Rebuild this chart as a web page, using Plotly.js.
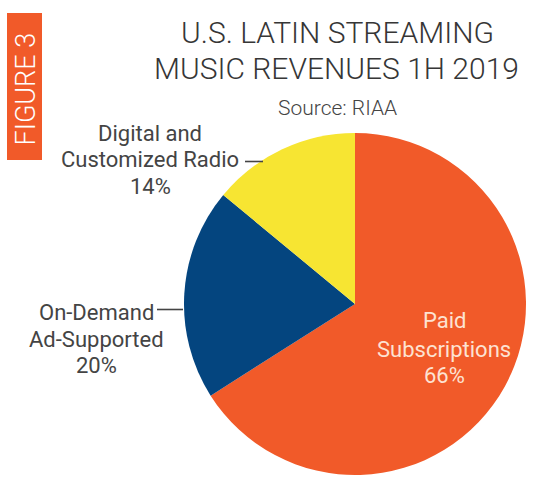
<!DOCTYPE html>
<html>
<head>
<meta charset="utf-8">
<script src="https://cdn.plot.ly/plotly-3.0.1.min.js"></script>
<style>html,body{margin:0;padding:0;background:#fff;}#chart{width:549px;height:477px;}</style>
</head>
<body>
<div id="chart"></div>
<script>
// Data
var categories = ["Paid Subscriptions", "On-Demand Ad-Supported", "Digital and Customized Radio"];
var labelLines = [["Paid", "Subscriptions"], ["On-Demand", "Ad-Supported"], ["Digital and", "Customized Radio"]];
var values = [66, 20, 14];
var colors = ["#F15A29", "#04457F", "#F7E532"];
var titleLines = ["U.S. LATIN STREAMING", "MUSIC REVENUES 1H 2019"];
var sourceText = "Source: RIAA";
var figureText = "FIGURE 3";

var W = 549, H = 477;
function px(x){ return x / W; }
function py(y){ return 1 - y / H; }

var cx = 355, cy = 304, r = 171;

var trace = {
  type: "pie",
  labels: categories,
  values: values,
  sort: false,
  direction: "clockwise",
  rotation: 0,
  textinfo: "none",
  hoverinfo: "label+percent",
  marker: {colors: colors, line: {width: 0}},
  domain: {x: [px(cx - r), px(cx + r)], y: [py(cy + r), py(cy - r)]},
  showlegend: false
};

var font = "Roboto, 'DejaVu Sans', sans-serif";

function ann(text, x, y, size, color, weight, angle){
  return {text: text, x: px(x), y: py(y), xref: "paper", yref: "paper",
    showarrow: false, xanchor: "center", yanchor: "middle", textangle: angle || 0,
    font: {family: font, size: size, color: color, weight: weight || 400}};
}

var annotations = [
  ann(titleLines[0], 337, 33, 30, "#363636", 300),
  ann(titleLines[1], 336, 68, 30, "#363636", 300),
  ann(sourceText, 337, 108, 21, "#444444", 300),
  ann(figureText, 25.5, 89, 27, "#ffffff", 300, -90)
];

// label blocks: [centerX, line center Ys], per category
var labelPos = [
  {x: 444, ys: [320.5, 349, 375.5], color: "#FDE2D2"},
  {x: 96.5, ys: [312.5, 339.5, 365.5], color: "#444444"},
  {x: 150, ys: [133, 159.5, 186], color: "#444444"}
];
for (var i = 0; i < categories.length; i++) {
  var lines = labelLines[i].concat([values[i] + "%"]);
  for (var j = 0; j < lines.length; j++) {
    annotations.push(ann(lines[j], labelPos[i].x, labelPos[i].ys[j], 22, labelPos[i].color, 400));
  }
}

var shapes = [
  {type: "rect", xref: "paper", yref: "paper", x0: px(7), x1: px(42), y0: py(160), y1: py(13),
   fillcolor: "#F15A29", line: {width: 0}, layer: "below"},
  {type: "line", xref: "paper", yref: "paper", x0: px(245), x1: px(263), y0: py(161.5), y1: py(161.5),
   line: {color: "#444444", width: 1.6}},
  {type: "line", xref: "paper", yref: "paper", x0: px(157), x1: px(183), y0: py(309.5), y1: py(309.5),
   line: {color: "#444444", width: 1.6}}
];

var layout = {
  width: W, height: H,
  margin: {l: 0, r: 0, t: 0, b: 0},
  paper_bgcolor: "#ffffff",
  plot_bgcolor: "#ffffff",
  annotations: annotations,
  shapes: shapes,
  showlegend: false
};

Plotly.newPlot("chart", [trace], layout, {displayModeBar: false, staticPlot: true});
</script>
</body>
</html>
